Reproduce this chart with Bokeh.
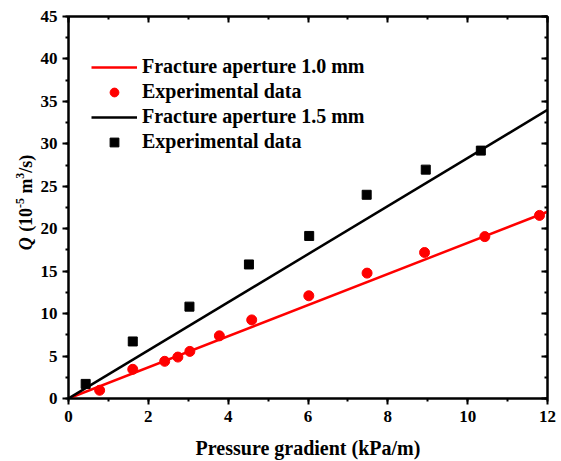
import math
from bokeh.plotting import figure
from bokeh.layouts import row
from bokeh.models import LinearAxis, Legend, LegendItem, Label, FixedTicker, Range1d
from bokeh.embed import file_html
from bokeh.resources import INLINE

# Data
red_x = [0.78, 1.61, 2.41, 2.74, 3.04, 3.78, 4.59, 6.02, 7.48, 8.92, 10.43, 11.8]
red_y = [0.97, 3.44, 4.38, 4.88, 5.55, 7.38, 9.26, 12.1, 14.77, 17.2, 19.07, 21.57]
black_x = [0.43, 1.61, 3.03, 4.52, 6.03, 7.47, 8.95, 10.33]
black_y = [1.72, 6.72, 10.82, 15.79, 19.15, 24.0, 26.96, 29.2]
fit_x = [0, 12]
fit_red_y = [0, 22.0]
fit_black_y = [0, 34.0]
x_ticks = [0, 2, 4, 6, 8, 10, 12]
y_ticks = [0, 5, 10, 15, 20, 25, 30, 35, 40, 45]
x_minor = list(range(0, 13))
y_minor = [i * 2.5 for i in range(19)]

FONT = "Liberation Serif"
LW = 37  # width of the strip holding the y-axis title
TOP, BOTTOM = 16, 61

p = figure(width=561 - LW, height=461, output_backend="svg", toolbar_location=None,
           x_range=Range1d(0, 12), y_range=Range1d(0, 45),
           min_border_left=68 - LW, min_border_right=14, min_border_top=TOP, min_border_bottom=BOTTOM)
p.grid.visible = False
p.outline_line_color = "black"
p.outline_line_width = 2
p.background_fill_color = "white"

for ax in (p.xaxis[0], p.yaxis[0]):
    ax.axis_line_width = 2
    ax.axis_line_color = "black"
    ax.major_tick_line_width = 2
    ax.minor_tick_line_width = 2
    ax.major_tick_out = 6
    ax.major_tick_in = 0
    ax.minor_tick_out = 3
    ax.minor_tick_in = 0
    ax.major_label_text_font = FONT
    ax.major_label_text_font_style = "bold"
    ax.major_label_text_font_size = "17px"
    ax.major_label_text_color = "black"

p.xaxis.ticker = FixedTicker(ticks=x_ticks, minor_ticks=x_minor)
p.yaxis.ticker = FixedTicker(ticks=y_ticks, minor_ticks=y_minor)
p.xaxis.major_label_standoff = 6
p.yaxis.major_label_standoff = 5
p.xaxis.axis_label = "Pressure gradient (kPa/m)"
p.xaxis.axis_label_text_font = FONT
p.xaxis.axis_label_text_font_style = "bold"
p.xaxis.axis_label_text_font_size = "20px"
p.xaxis.axis_label_text_color = "black"
p.xaxis.axis_label_standoff = 12

top = LinearAxis(major_label_text_font_size="0px", axis_line_width=2,
                 major_tick_in=6, major_tick_out=0, minor_tick_in=3, minor_tick_out=0,
                 major_tick_line_width=2, minor_tick_line_width=2,
                 ticker=FixedTicker(ticks=x_ticks, minor_ticks=x_minor))
top.major_label_overrides = {t: "" for t in x_ticks}
right = LinearAxis(major_label_text_font_size="0px", axis_line_width=2,
                   major_tick_in=6, major_tick_out=0, minor_tick_in=3, minor_tick_out=0,
                   major_tick_line_width=2, minor_tick_line_width=2,
                   ticker=FixedTicker(ticks=y_ticks, minor_ticks=y_minor))
right.major_label_overrides = {t: "" for t in y_ticks}
p.add_layout(top, "above")
p.add_layout(right, "right")

r1 = p.line(fit_x, fit_red_y, line_color="#ff0000", line_width=2.5)
r2 = p.scatter(red_x, red_y, marker="circle", size=10, fill_color="#ff0000", line_color="#ff0000")
r3 = p.line(fit_x, fit_black_y, line_color="black", line_width=2.5)
r4 = p.scatter(black_x, black_y, marker="square", size=9, fill_color="black", line_color="black")

legend = Legend(items=[
    LegendItem(label="Fracture aperture 1.0 mm", renderers=[r1]),
    LegendItem(label="Experimental data", renderers=[r2]),
    LegendItem(label="Fracture aperture 1.5 mm", renderers=[r3]),
    LegendItem(label="Experimental data", renderers=[r4]),
], location=(23, 245), padding=0, margin=0, spacing=2,
    glyph_width=46, glyph_height=22, label_height=22, label_standoff=5,
    label_text_font=FONT, label_text_font_style="bold", label_text_font_size="20px",
    label_text_color="black",
    border_line_color=None, background_fill_alpha=0)
p.add_layout(legend, "center")

# Strip on the left carrying the rotated y-axis title; its frame spans the
# same pixel rows as the main frame (TOP .. 461-BOTTOM)
FH = 461 - TOP - BOTTOM
q = figure(width=LW, height=461, output_backend="svg", toolbar_location=None,
           x_range=Range1d(0, LW), y_range=Range1d(0, FH),
           x_axis_type=None, y_axis_type=None,
           min_border_left=0, min_border_right=0, min_border_top=TOP, min_border_bottom=BOTTOM)
q.grid.visible = False
q.outline_line_color = None

base_x = 25
sup_x = 19
pieces = [
    ("Q", 251, base_x, "18px", "bold italic"),
    ("(10", 232.5, base_x, "18px", "bold"),
    ("-5", 208.5, sup_x, "12px", "bold"),
    ("m", 194, base_x, "18px", "bold"),
    ("3", 179, sup_x, "12px", "bold"),
    ("/s)", 173, base_x, "18px", "bold"),
]
for txt, py, x, fs, style in pieces:
    q.add_layout(Label(x=x, y=(461 - BOTTOM) - py, text=txt, angle=math.pi / 2,
                       text_font=FONT, text_font_size=fs, text_font_style=style,
                       text_align="left", text_baseline="middle",
                       text_color="black"))

layout = row(q, p, spacing=0)
open("out.html", "w").write(file_html(layout, INLINE))
